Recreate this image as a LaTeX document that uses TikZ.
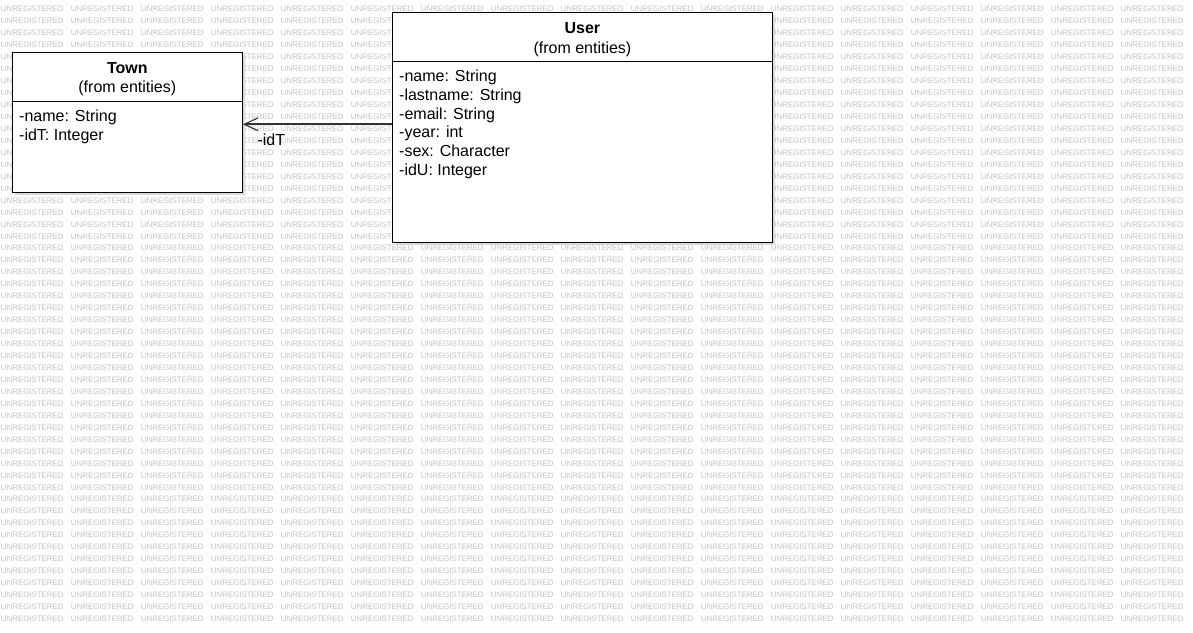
\documentclass[tikz,border=0pt]{standalone}
\usepackage{fontspec}
\setmainfont{Liberation Sans}
\usetikzlibrary{arrows.meta, positioning, calc, shadows}

\begin{document}
\begin{tikzpicture}[x=1pt,y=1pt,>=stealth]

% Colors
\definecolor{markgray}{RGB}{196,196,196}
\definecolor{shadegray}{RGB}{218,218,218}
\definecolor{linkgray}{RGB}{50,50,50}

\tikzset{
  classbox/.style={draw=black, line width=1.2pt, fill=white, inner sep=0pt,
    drop shadow={shadow xshift=3pt, shadow yshift=-3pt, fill=shadegray, opacity=1}},
  classtitle/.style={font=\fontsize{16}{19}\selectfont\bfseries, inner sep=0pt, anchor=base},
  classnote/.style={font=\fontsize{16}{19}\selectfont, inner sep=0pt, anchor=base},
  attr/.style={font=\fontsize{16}{19}\selectfont, inner sep=0pt, anchor=base west},
  wmtext/.style={font=\fontsize{7.9}{8}\selectfont, text=markgray, inner sep=0pt, anchor=base west},
  assoc/.style={draw=linkgray, line width=2pt, -{Straight Barb[length=14pt,width=13pt,line width=1.1pt]}}
}

% Background
\useasboundingbox (0,0) rectangle (1193,632);
\fill[white] (0,0) rectangle (1193,632);

% Watermark
\foreach \k in {0,...,51} {
    \foreach \j in {0,...,16} {
        \node[wmtext] (wm-\k-\j) at (70*\j+0.7, 620-11.95*\k) {UNREGISTERED};
    }
}

% Classes
\node[classbox, minimum width=230pt, minimum height=140pt] (town) at (127.3,509.7) {};
\node[classbox, minimum width=379.8pt, minimum height=230pt] (user) at (582.4,504.7) {};

% Compartments
\draw[line width=1.2pt] ([yshift=-50pt]town.north west) -- ([yshift=-50pt]town.north east);
\draw[line width=1.2pt] ([yshift=-50pt]user.north west) -- ([yshift=-50pt]user.north east);

% Titles
\node[classtitle] (townname) at (127.3,558) {Town};
\node[classnote] (townfrom) at (127.3,539.3) {(from entities)};
\node[classtitle] (username) at (582.4,598) {User};
\node[classnote] (userfrom) at (582.4,578.7) {(from entities)};

% Attributes
\foreach \t [count=\i from 0] in {-name: String, -idT: Integer} {
    \node[attr] (tattr\i) at (19, 510.5-18.8*\i) {\t};
}
\foreach \t [count=\i from 0] in {-name: String, -lastname: String, -email: String, -year: int, -sex: Character, -idU: Integer} {
    \node[attr] (uattr\i) at (399, 550.5-18.8*\i) {\t};
}

% Association
\coordinate (tip) at ([yshift=-2pt]town.east);
\draw[assoc] (user.west |- tip) -- (tip);
\node[classnote, anchor=base west] (idT) at ([xshift=14.5pt,yshift=-21.4pt]tip) {-idT};

\end{tikzpicture}
\end{document}
